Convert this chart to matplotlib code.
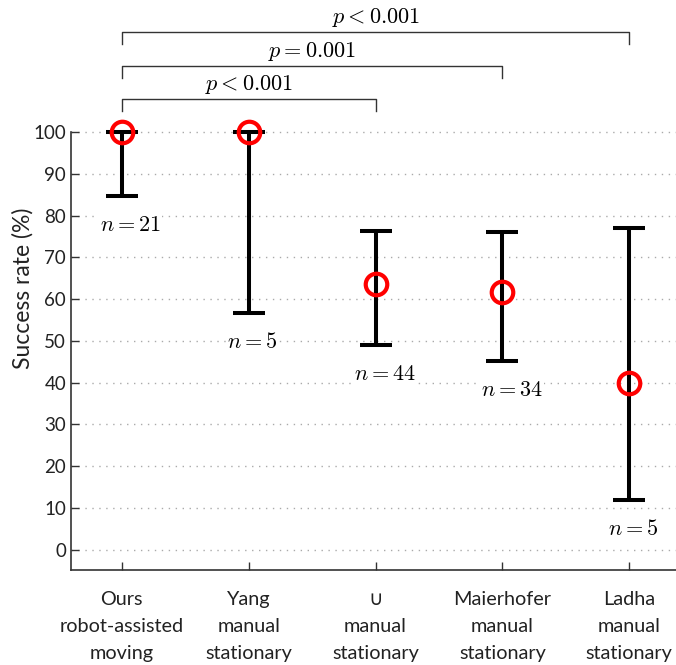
import matplotlib
matplotlib.use("Agg")
import matplotlib.pyplot as plt

plt.rcParams['font.family'] = ['Lato', 'DejaVu Sans']
plt.rcParams['mathtext.fontset'] = 'cm'

# Success rates with confidence interval bounds (%)
labels = ['Ours\nrobot-assisted\nmoving', 'Yang\nmanual\nstationary',
          '\u222a\nmanual\nstationary', 'Maierhofer\nmanual\nstationary',
          'Ladha\nmanual\nstationary']
rate = [100, 100, 63.6, 61.7, 40.0]
lower = [84.7, 56.7, 49.0, 45.2, 12.0]
upper = [100, 100, 76.3, 76.1, 77.0]
n_obs = [21, 5, 44, 34, 5]

# significance brackets: (first group, second group, label)
brackets = [(1, 3, r'$p < 0.001$'), (1, 4, r'$p = 0.001$'), (1, 5, r'$p < 0.001$')]
bracket_y = [107.9, 115.8, 123.9]

x = list(range(1, len(labels) + 1))
err_lo = [r - l for r, l in zip(rate, lower)]
err_hi = [u - r for r, u in zip(rate, upper)]

fig = plt.figure(figsize=(6.76, 6.65), dpi=100)
ax = fig.add_axes([0.105, 0.143, 0.901, 0.847])

ax.errorbar(x, rate, yerr=[err_lo, err_hi], fmt='none', ecolor='black',
            elinewidth=2.9, capsize=11.5, capthick=2.9, zorder=3)
ax.plot(x, rate, 'o', ms=15.5, mfc='none', mec='red', mew=3, zorder=4)

for xi, lo, n in zip(x, lower, n_obs):
    ax.text(xi - 0.17, lo - 7, r'$n = %d$' % n, ha='left', va='center', fontsize=16,
            bbox=dict(facecolor='white', edgecolor='none', pad=1), zorder=5)

for (a, b, txt), yb in zip(brackets, bracket_y):
    ax.plot([a, a, b, b], [yb - 2.9, yb, yb, yb - 2.9], color='#333333', lw=1.0, clip_on=False)
    ax.text((a + b) / 2, yb + 3.4, txt, ha='center', va='center', fontsize=16)

ax.set_xlim(0.6, 5.4)
ax.set_ylim(-4.8, 130)
ax.set_yticks(range(0, 101, 10))
ax.set_xticks(x)
ax.set_xticklabels(labels, fontsize=14.3, color='#222222', linespacing=1.72)
ax.tick_params(axis='y', labelsize=13.5, labelcolor='#222222')
ax.tick_params(direction='in', length=6, width=1, color='#333333')
ax.tick_params(axis='x', pad=15)
ax.set_ylabel('Success rate (%)', fontsize=16.5, color='#222222', labelpad=0)

ax.yaxis.grid(True, linestyle=(0, (1, 4)), color='#aaaaaa', lw=1)
ax.set_axisbelow(True)

ax.spines['top'].set_visible(False)
ax.spines['right'].set_visible(False)
ax.spines['left'].set_bounds(-4.8, 100)
for s in ['left', 'bottom']:
    ax.spines[s].set_color('#333333')
    ax.spines[s].set_linewidth(1.2)

fig.savefig('out.png', dpi=100)
